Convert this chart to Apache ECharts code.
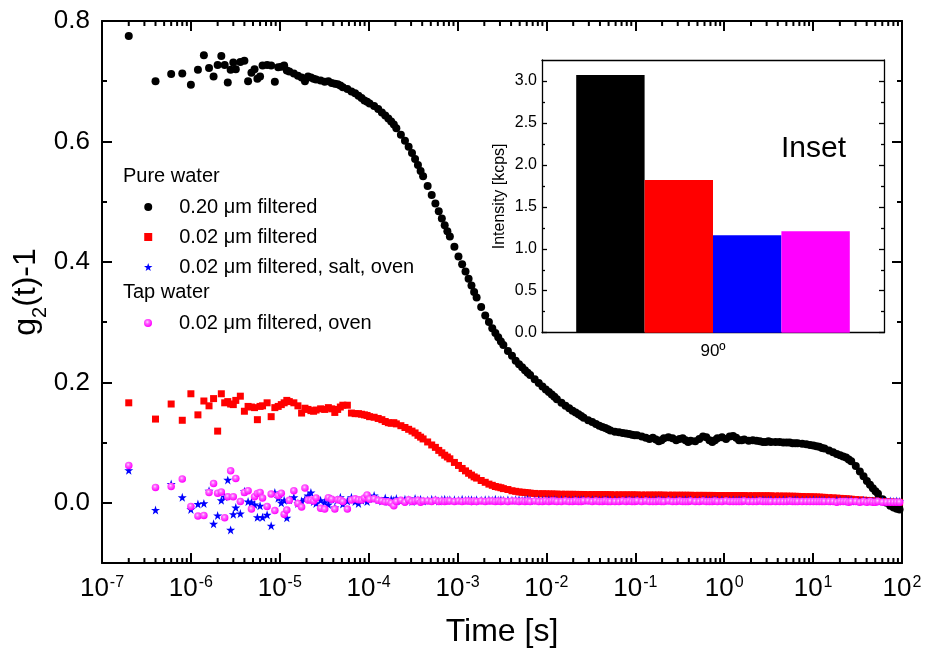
<!DOCTYPE html>
<html>
<head>
<meta charset="utf-8">
<script src="https://cdn.jsdelivr.net/npm/echarts@6/dist/echarts.min.js"></script>
<style>
html,body{margin:0;padding:0;background:#fff;}
#chart{width:926px;height:653px;}
</style>
</head>
<body>
<div id="chart"></div>
<script>
// ---------------- DATA ----------------
const lagTime = [
2e-7,4e-7,6e-7,8e-7,1e-6,1.2e-6,1.4e-6,1.6e-6,1.8e-6,2e-6,2.2e-6,2.4e-6,2.6e-6,2.8e-6,3e-6,3.2e-6,
3.6e-6,4e-6,4.4e-6,4.8e-6,5.2e-6,5.6e-6,6e-6,6.4e-6,
7.2e-6,8e-6,8.8e-6,9.6e-6,1.04e-5,1.12e-5,1.2e-5,1.28e-5,
1.44e-5,1.6e-5,1.76e-5,1.92e-5,2.08e-5,2.24e-5,2.4e-5,2.56e-5,
2.88e-5,3.2e-5,3.52e-5,3.84e-5,4.16e-5,4.48e-5,4.8e-5,5.12e-5,
5.76e-5,6.4e-5,7.04e-5,7.68e-5,8.32e-5,8.96e-5,9.6e-5,1.024e-4,
1.152e-4,1.28e-4,1.408e-4,1.536e-4,1.664e-4,1.792e-4,1.92e-4,2.048e-4,
2.304e-4,2.56e-4,2.816e-4,3.072e-4,3.328e-4,3.584e-4,3.84e-4,4.096e-4,
4.608e-4,5.12e-4,5.632e-4,6.144e-4,6.656e-4,7.168e-4,7.68e-4,8.192e-4,
9.216e-4,1.024e-3,1.126e-3,1.229e-3,1.331e-3,1.434e-3,1.536e-3,1.638e-3,
1.843e-3,2.048e-3,2.253e-3,2.458e-3,2.662e-3,2.867e-3,3.072e-3,3.277e-3,
3.686e-3,4.096e-3,4.506e-3,4.915e-3,5.325e-3,5.734e-3,6.144e-3,6.554e-3,
7.373e-3,8.192e-3,9.011e-3,9.830e-3,1.065e-2,1.147e-2,1.229e-2,1.311e-2,
1.475e-2,1.638e-2,1.802e-2,1.966e-2,2.130e-2,2.294e-2,2.458e-2,2.621e-2,
2.949e-2,3.277e-2,3.604e-2,3.932e-2,4.260e-2,4.588e-2,4.915e-2,5.243e-2,
5.898e-2,6.554e-2,7.209e-2,7.864e-2,8.520e-2,9.175e-2,9.830e-2,0.1049,
0.118,0.1311,0.1442,0.1573,0.1704,0.1835,0.1966,0.2097,
0.2359,0.2621,0.2884,0.3146,0.3408,0.367,0.3932,0.4194,
0.4719,0.5243,0.5767,0.6291,0.6816,0.734,0.7864,0.8389,
0.9437,1.049,1.153,1.258,1.363,1.468,1.573,1.678,
1.887,2.097,2.307,2.517,2.726,2.936,3.146,3.355,
3.775,4.194,4.614,5.033,5.453,5.872,6.291,6.711,
7.550,8.389,9.227,10.07,10.91,11.74,12.58,13.42,
15.10,16.78,18.46,20.13,21.81,23.49,25.17,26.84,
30.20,33.55,36.91,40.27,43.62,46.98,50.33,53.69,
60.40,67.11,73.82,80.53,87.24,93.95
];

const pure020 = [
.775,.700,.712,.713,.694,.719,.743,.722,.708,.727,.742,.727,.698,.719,.731,.720,
.732,.734,.700,.714,.720,.704,.708,.726,
.727,.726,.699,.723,.724,.726,.718,.716,
.713,.709,.706,.700,.708,.706,.704,.703,
.701,.699,.700,.697,.696,.695,.693,.690,
.687,.683,.680,.676,.672,.668,.666,.663,
.659,.654,.648,.643,.638,.633,.628,.622,
.611,.601,.591,.581,.571,.561,.551,.542,
.526,.511,.497,.484,.472,.461,.451,.442,
.425,.409,.396,.384,.372,.361,.350,.341,
.325,.311,.300,.290,.282,.275,.268,.262,
.252,.244,.236,.230,.225,.220,.216,.212,
.205,.199,.193,.188,.184,.180,.176,.172,
.166,.161,.157,.153,.150,.147,.144,.141,
.137,.134,.131,.128,.126,.124,.122,.120,
.118,.117,.116,.115,.114,.113,.112,.112,
.110,.108,.106,.108,.105,.102,.104,.107,
.109,.107,.104,.106,.107,.104,.101,.103,
.102,.106,.110,.109,.104,.101,.104,.107,
.109,.106,.110,.111,.108,.104,.104,.105,
.103,.104,.103,.102,.101,.101,.102,.101,
.101,.101,.100,.100,.100,.099,.099,.099,
.098,.097,.096,.095,.094,.093,.091,.090,
.087,.084,.081,.079,.077,.075,.072,.069,
.061,.052,.044,.036,.030,.024,.019,.015,
.006,.000,-.005,-.008,-.010,-.011
];

const pure002 = [
.166,.139,.164,.137,.181,.146,.169,.161,.173,.119,.181,.166,.168,.164,.163,.170,
.177,.152,.160,.159,.158,.138,.160,.161,
.166,.143,.158,.160,.163,.166,.170,.168,
.166,.161,.149,.157,.155,.153,.152,.154,
.156,.155,.158,.156,.150,.155,.159,.162,
.162,.149,.148,.148,.147,.146,.145,.143,
.142,.140,.138,.135,.133,.132,.133,.131,
.128,.125,.122,.119,.116,.112,.109,.106,
.101,.096,.092,.087,.083,.079,.076,.073,
.067,.062,.057,.053,.049,.046,.043,.041,
.037,.034,.031,.029,.027,.026,.025,.0235,
.022,.020,.019,.018,.0175,.017,.0165,.016,
.0155,.015,.015,.0148,.0146,.0145,.0144,.0143,
.0142,.0141,.014,.014,.0139,.0138,.0138,.0137,
.0136,.0136,.0135,.0135,.0134,.0134,.0133,.0133,
.0132,.0132,.0131,.0131,.013,.013,.013,.0129,
.0129,.0128,.0128,.0128,.0127,.0127,.0127,.0126,
.0126,.0126,.0125,.0125,.0125,.0124,.0124,.0124,
.0123,.0123,.0123,.0122,.0122,.0122,.0121,.0121,
.0121,.012,.012,.012,.0119,.0119,.0119,.0118,
.0118,.0117,.0117,.0116,.0116,.0115,.0115,.0114,
.0113,.0112,.0111,.011,.0109,.0108,.0107,.0106,
.0104,.0102,.010,.0098,.0096,.0094,.0091,.0089,
.0085,.0081,.0077,.0073,.0069,.0066,.0062,.0059,
.0053,.0048,.0043,.0039,.0035,.0032,.0029,.0026,
.0021,.0017,.0014,.0011,.0009,.0007
];

const pureSaltOven = [
.054,-.012,.031,.009,-.011,-.002,-.001,.020,-.035,-.021,.004,.010,.038,-.045,-.019,-.008,
-.018,.019,.002,.001,-.003,-.024,-.005,-.024,
-.020,-.038,.017,.008,.000,.004,-.025,.005,
.009,-.001,.003,.006,.012,.017,.002,-.001,
.004,.001,-.003,.006,-.008,.005,.009,-.002,
.003,.009,.002,-.001,.004,.006,.002,.007,
.012,.005,.003,.008,.002,.006,.004,.007,
.003,.006,.005,.002,.007,.004,.006,.003,
.004,.006,.005,.003,.005,.006,.004,.005,
.005,.004,.006,.004,.005,.005,.003,.005,
.004,.005,.005,.004,.006,.004,.005,.004,
.005,.004,.005,.005,.004,.005,.006,.004,
.004,.005,.004,.005,.005,.004,.005,.004,
.005,.005,.004,.004,.005,.004,.005,.005,
.004,.005,.005,.004,.004,.005,.005,.004,
.005,.004,.004,.005,.005,.004,.004,.005,
.004,.005,.004,.004,.005,.005,.004,.004,
.005,.004,.005,.004,.004,.005,.004,.005,
.004,.004,.005,.005,.004,.004,.005,.004,
.005,.004,.004,.005,.004,.005,.004,.004,
.004,.005,.004,.004,.005,.004,.004,.005,
.004,.004,.005,.004,.004,.004,.005,.004,
.004,.004,.004,.005,.004,.004,.004,.004,
.004,.003,.004,.004,.003,.004,.003,.004,
.003,.003,.004,.003,.003,.003,.003,.003,
.003,.002,.003,.002,.003,.002
];

const tapOven = [
.062,.0255,.027,.0395,-.006,-.022,-.021,.017,.032,.016,.018,-.025,.010,.053,.010,.0405,
.002,.017,.020,-.0105,.010,.0155,.017,.008,
-.006,.0145,-.013,.012,.016,-.019,-.012,.004,
.020,-.001,-.007,.0245,.0045,.0045,.003,.008,
-.009,-.0105,.0085,.006,-.0105,.005,.0045,.002,
-.0105,.0045,.0065,.005,.0045,.008,.013,.006,
.0065,.004,.003,.0015,.0015,-.0005,-.005,.002,
.004,.001,.005,.002,.003,.004,.001,.003,
.003,.002,.004,.002,.003,.002,.003,.003,
.002,.003,.002,.003,.003,.002,.003,.002,
.003,.002,.003,.003,.002,.003,.002,.003,
.002,.003,.003,.002,.003,.002,.003,.002,
.003,.002,.002,.003,.002,.003,.003,.002,
.002,.003,.002,.002,.003,.002,.002,.003,
.003,.002,.003,.002,.002,.003,.002,.002,
.002,.002,.003,.002,.003,.002,.002,.003,
.002,.003,.002,.002,.002,.003,.002,.002,
.003,.002,.002,.003,.002,.002,.002,.003,
.002,.002,.003,.002,.002,.002,.003,.002,
.002,.003,.002,.002,.002,.002,.002,.003,
.002,.002,.002,.003,.002,.002,.002,.002,
.002,.002,.002,.002,.003,.002,.002,.002,
.002,.002,.002,.002,.002,.002,.002,.002,
.002,.002,.001,.002,.002,.002,.001,.002,
.002,.001,.002,.001,.002,.001,.001,.002,
.001,.001,.001,.001,.001,.001
];

const seriesNames = ['0.20 μm filtered', '0.02 μm filtered', '0.02 μm filtered, salt, oven', '0.02 μm filtered, oven'];
const insetCategories = ['90º'];
const insetIntensity = [3.07, 1.82, 1.16, 1.21];
const yTickLabels = ['0.0', '0.2', '0.4', '0.6', '0.8'];

// ---------------- STYLE ----------------
const FONT = '"Liberation Sans", Arial, Helvetica, sans-serif';
const BLACK = '#000000', RED = '#ff0000', BLUE = '#0000ff', MAGENTA = '#ff00ff';
const STAR = 'path://M50,0 L61.8,35.1 L98.1,35.1 L68.8,56.8 L79.4,91.1 L50,70 L20.6,91.1 L31.2,56.8 L1.9,35.1 L38.2,35.1 Z';
const SQUARE = 'path://M0,0 L10,0 L10,10 L0,10 Z';
const sphere = {type: 'radial', x: 0.42, y: 0.38, r: 0.6,
  colorStops: [{offset: 0, color: '#ffd8ff'}, {offset: 0.35, color: '#ff66ff'}, {offset: 1, color: '#ff00ff'}]};

// axis minor tick positions of the log axis (2..9 x 10^k)
const minorTickValues = [];
for (let e = -7; e <= 1; e++) for (let m = 2; m <= 9; m++) minorTickValues.push(m * Math.pow(10, e));

const pair = arr => lagTime.map((t, i) => [t, arr[i]]);

// grid geometry
const G = {left: 102, top: 21, width: 800, height: 542};
const yMin = -0.1, yMax = 0.8;
const overlayH = G.height * (yMax - 0) / (yMax - yMin);
const I = {left: 542, top: 60, width: 342, height: 272.7};
const iMax = 3.25;
const iOverlayTop = I.top + I.height * (iMax - 3) / iMax;
const iOverlayH = I.height * 3 / iMax;

const tickStyle = {color: '#000', width: 2};
const insetLine = {color: '#000', width: 1.3};
const legendText = {fontSize: 20, lineHeight: 20, fontFamily: FONT, color: '#000', padding: [0, 0, 0, 13]};

const chart = echarts.init(document.getElementById('chart'), null, {renderer: 'canvas'});

const option = {
  animation: false,
  backgroundColor: '#fff',
  textStyle: {fontFamily: FONT, color: '#000'},
  grid: [
    {left: G.left, top: G.top, width: G.width, height: G.height},
    {left: G.left, top: G.top, width: G.width, height: overlayH},
    {left: I.left, top: I.top, width: I.width, height: I.height, show: true, backgroundColor: '#fff', borderWidth: 0},
    {left: I.left, top: iOverlayTop, width: I.width, height: iOverlayH}
  ],
  xAxis: [
    {gridIndex: 0, type: 'log', logBase: 10, min: 1e-7, max: 1e2, position: 'bottom', splitNumber: 9,
      axisLine: {onZero: false, lineStyle: {color: '#000', width: 2}},
      axisTick: {inside: true, length: 10, lineStyle: tickStyle},
      minorTick: {show: false}, splitLine: {show: false},
      axisLabel: {margin: 12, showMinLabel: true, showMaxLabel: true,
        formatter: v => '{b|10}{s|' + Math.round(Math.log10(v)) + '}',
        rich: {b: {fontSize: 26, fontFamily: FONT, color: '#000'},
               s: {fontSize: 16, fontFamily: FONT, color: '#000', padding: [0, 0, 12, 1]}}},
      name: 'Time [s]', nameLocation: 'middle', nameGap: 53,
      nameTextStyle: {fontSize: 32, fontFamily: FONT, color: '#000'}},
    {gridIndex: 0, type: 'log', logBase: 10, min: 1e-7, max: 1e2, position: 'top', splitNumber: 9,
      axisLine: {onZero: false, lineStyle: {color: '#000', width: 2}},
      axisTick: {inside: true, length: 10, lineStyle: tickStyle},
      axisLabel: {show: false}, splitLine: {show: false}},
    {gridIndex: 1, type: 'value', show: false, min: 0, max: 1},
    {gridIndex: 2, type: 'category', data: insetCategories, position: 'bottom',
      axisLine: {onZero: false, lineStyle: insetLine},
      axisTick: {inside: true, alignWithLabel: true, length: 5, lineStyle: insetLine},
      axisLabel: {fontSize: 17, margin: 10, color: '#000'}},
    {gridIndex: 2, type: 'category', data: insetCategories, position: 'top',
      axisLine: {onZero: false, lineStyle: insetLine},
      axisTick: {inside: true, alignWithLabel: true, length: 5, lineStyle: insetLine},
      axisLabel: {show: false}},
    {gridIndex: 3, type: 'value', show: false, min: 0, max: 1}
  ],
  yAxis: [
    {gridIndex: 0, type: 'value', min: yMin, max: yMax, position: 'left',
      axisLine: {show: true, onZero: false, lineStyle: {color: '#000', width: 2}},
      axisTick: {show: false}, axisLabel: {show: false}, splitLine: {show: false},
      name: '{a|g}{s|2}{a|(t)-1}', nameLocation: 'middle', nameGap: 52,
      nameTextStyle: {rich: {
        a: {fontSize: 32, fontFamily: FONT, color: '#000', verticalAlign: 'top'},
        s: {fontSize: 20, fontFamily: FONT, color: '#000', verticalAlign: 'bottom', padding: [20, 0, 0, 0]}}}},
    {gridIndex: 0, type: 'value', min: yMin, max: yMax, position: 'right',
      axisLine: {show: true, onZero: false, lineStyle: {color: '#000', width: 2}},
      axisTick: {show: false}, axisLabel: {show: false}, splitLine: {show: false}},
    {gridIndex: 1, type: 'value', min: 0, max: 0.8, interval: 0.2, position: 'left',
      axisLine: {show: false, onZero: false},
      axisTick: {show: true, inside: true, length: 10, lineStyle: tickStyle},
      minorTick: {show: true, splitNumber: 2, length: 5, lineStyle: tickStyle},
      splitLine: {show: false},
      axisLabel: {fontSize: 26, margin: 12, color: '#000',
        formatter: v => yTickLabels[Math.round(v / 0.2)]}},
    {gridIndex: 1, type: 'value', min: 0, max: 0.8, interval: 0.2, position: 'right',
      axisLine: {show: false, onZero: false},
      axisTick: {show: true, inside: true, length: 10, lineStyle: tickStyle},
      minorTick: {show: true, splitNumber: 2, length: 5, lineStyle: tickStyle},
      splitLine: {show: false}, axisLabel: {show: false}},
    {gridIndex: 2, type: 'value', min: 0, max: iMax, position: 'left',
      axisLine: {show: true, onZero: false, lineStyle: insetLine},
      axisTick: {show: false}, axisLabel: {show: false}, splitLine: {show: false},
      name: 'Intensity [kcps]', nameLocation: 'middle', nameGap: 34,
      nameTextStyle: {fontSize: 16, fontFamily: FONT, color: '#000'}},
    {gridIndex: 2, type: 'value', min: 0, max: iMax, position: 'right',
      axisLine: {show: true, onZero: false, lineStyle: insetLine},
      axisTick: {show: false}, axisLabel: {show: false}, splitLine: {show: false}},
    {gridIndex: 3, type: 'value', min: 0, max: 3, interval: 0.5, position: 'left',
      axisLine: {show: false, onZero: false},
      axisTick: {show: true, inside: true, length: 5, lineStyle: insetLine},
      minorTick: {show: true, splitNumber: 2, length: 3, lineStyle: insetLine},
      splitLine: {show: false},
      axisLabel: {fontSize: 16, margin: 5, color: '#000', formatter: v => v.toFixed(1)}},
    {gridIndex: 3, type: 'value', min: 0, max: 3, interval: 0.5, position: 'right',
      axisLine: {show: false, onZero: false},
      axisTick: {show: true, inside: true, length: 5, lineStyle: insetLine},
      minorTick: {show: true, splitNumber: 2, length: 3, lineStyle: insetLine},
      splitLine: {show: false}, axisLabel: {show: false}}
  ],
  legend: [
    {data: [seriesNames[0], seriesNames[1], seriesNames[2]], orient: 'vertical', left: 139, top: 192,
      itemWidth: 26, itemHeight: 8, itemGap: 10, selectedMode: false, symbolKeepAspect: true,
      textStyle: legendText},
    {data: [seriesNames[3]], orient: 'vertical', left: 139, top: 308,
      itemWidth: 26, itemHeight: 8, itemGap: 10, selectedMode: false, symbolKeepAspect: true,
      textStyle: legendText}
  ],
  graphic: [
    {type: 'text', left: 123, top: 166, style: {text: 'Pure water', fontSize: 20, fontFamily: FONT, fill: '#000'}},
    {type: 'text', left: 123, top: 282, style: {text: 'Tap water', fontSize: 20, fontFamily: FONT, fill: '#000'}},
    {type: 'text', left: 781, top: 134, z: 100, style: {text: 'Inset', fontSize: 30, fontFamily: FONT, fill: '#000'}}
  ],
  series: [
    {type: 'custom', xAxisIndex: 0, yAxisIndex: 0, silent: true, clip: false,
      data: minorTickValues.map(v => [v, yMin]),
      renderItem: (params, api) => {
        const pb = api.coord([api.value(0), yMin]);
        const pt = api.coord([api.value(0), yMax]);
        return {type: 'group', children: [
          {type: 'line', shape: {x1: pb[0], y1: pb[1], x2: pb[0], y2: pb[1] - 5}, style: {stroke: '#000', lineWidth: 2}},
          {type: 'line', shape: {x1: pt[0], y1: pt[1], x2: pt[0], y2: pt[1] + 5}, style: {stroke: '#000', lineWidth: 2}}
        ]};
      }},
    {name: seriesNames[0], type: 'scatter', xAxisIndex: 0, yAxisIndex: 0, data: pair(pure020),
      symbol: 'circle', symbolSize: 8, itemStyle: {color: BLACK, opacity: 1}},
    {name: seriesNames[1], type: 'scatter', xAxisIndex: 0, yAxisIndex: 0, data: pair(pure002),
      symbol: SQUARE, symbolSize: 7, itemStyle: {color: RED, opacity: 1}},
    {name: seriesNames[2], type: 'scatter', xAxisIndex: 0, yAxisIndex: 0, data: pair(pureSaltOven),
      symbol: STAR, symbolSize: 9, itemStyle: {color: BLUE, opacity: 1}},
    {name: seriesNames[3], type: 'scatter', xAxisIndex: 0, yAxisIndex: 0, data: pair(tapOven),
      symbol: 'circle', symbolSize: 7.5, itemStyle: {color: sphere, opacity: 1}},
    {name: 'bar-black', type: 'bar', xAxisIndex: 3, yAxisIndex: 4, data: [insetIntensity[0]],
      barGap: '0%', barCategoryGap: '20%', itemStyle: {color: BLACK}},
    {name: 'bar-red', type: 'bar', xAxisIndex: 3, yAxisIndex: 4, data: [insetIntensity[1]],
      barGap: '0%', barCategoryGap: '20%', itemStyle: {color: RED}},
    {name: 'bar-blue', type: 'bar', xAxisIndex: 3, yAxisIndex: 4, data: [insetIntensity[2]],
      barGap: '0%', barCategoryGap: '20%', itemStyle: {color: BLUE}},
    {name: 'bar-magenta', type: 'bar', xAxisIndex: 3, yAxisIndex: 4, data: [insetIntensity[3]],
      barGap: '0%', barCategoryGap: '20%', itemStyle: {color: MAGENTA}}
  ]
};
chart.setOption(option);
</script>
</body>
</html>
